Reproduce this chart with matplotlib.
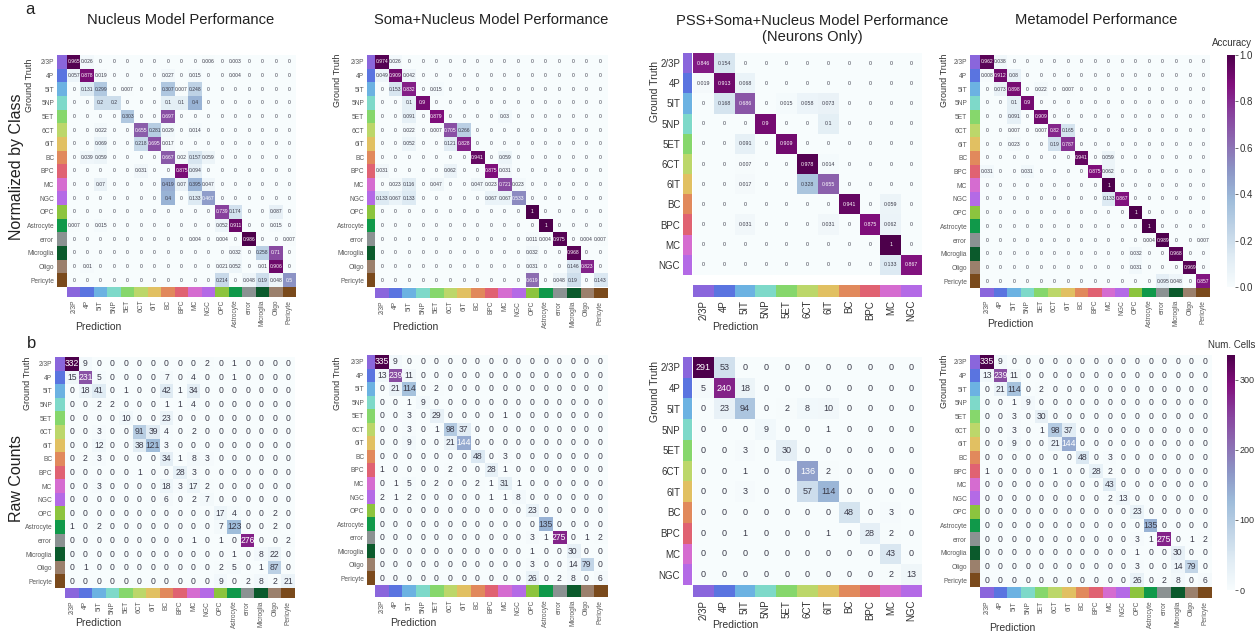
import numpy as np
import matplotlib
matplotlib.use('Agg')
import matplotlib.pyplot as plt
from matplotlib.colors import ListedColormap, Normalize
from matplotlib.cm import ScalarMappable

plt.rcParams['font.family'] = ['Liberation Sans', 'DejaVu Sans']

# ---------------- data ----------------
classes_all = ['2/3P', '4P', '5IT', '5NP', '5ET', '6CT', '6IT', 'BC', 'BPC', 'MC', 'NGC',
               'OPC', 'Astrocyte', 'error', 'Microglia', 'Oligo', 'Pericyte']
classes_neurons = classes_all[:11]
class_colors = ['#8a66dc', '#5a74e0', '#6cb2e2', '#7ed9c9', '#86d76c', '#bcd76a', '#e1c062',
                '#e1895c', '#e06272', '#d56cd0', '#b46ae6', '#8cc43e', '#10994a', '#8b9292',
                '#0b5a2c', '#9b806c', '#7a4a1c']

counts_nucleus = [
    [332, 9, 0, 0, 0, 0, 0, 0, 0, 0, 2, 0, 1, 0, 0, 0, 0],
    [15, 231, 5, 0, 0, 0, 0, 7, 0, 4, 0, 0, 1, 0, 0, 0, 0],
    [0, 18, 41, 0, 1, 0, 0, 42, 1, 34, 0, 0, 0, 0, 0, 0, 0],
    [0, 0, 2, 2, 0, 0, 0, 1, 1, 4, 0, 0, 0, 0, 0, 0, 0],
    [0, 0, 0, 0, 10, 0, 0, 23, 0, 0, 0, 0, 0, 0, 0, 0, 0],
    [0, 0, 3, 0, 0, 91, 39, 4, 0, 2, 0, 0, 0, 0, 0, 0, 0],
    [0, 0, 12, 0, 0, 38, 121, 3, 0, 0, 0, 0, 0, 0, 0, 0, 0],
    [0, 2, 3, 0, 0, 0, 0, 34, 1, 8, 3, 0, 0, 0, 0, 0, 0],
    [0, 0, 0, 0, 0, 1, 0, 0, 28, 3, 0, 0, 0, 0, 0, 0, 0],
    [0, 0, 3, 0, 0, 0, 0, 18, 3, 17, 2, 0, 0, 0, 0, 0, 0],
    [0, 0, 0, 0, 0, 0, 0, 6, 0, 2, 7, 0, 0, 0, 0, 0, 0],
    [0, 0, 0, 0, 0, 0, 0, 0, 0, 0, 0, 17, 4, 0, 0, 2, 0],
    [1, 0, 2, 0, 0, 0, 0, 0, 0, 0, 0, 7, 123, 0, 0, 2, 0],
    [0, 0, 0, 0, 0, 0, 0, 0, 0, 1, 0, 1, 0, 276, 0, 0, 2],
    [0, 0, 0, 0, 0, 0, 0, 0, 0, 0, 0, 0, 1, 0, 8, 22, 0],
    [0, 1, 0, 0, 0, 0, 0, 0, 0, 0, 0, 2, 5, 0, 1, 87, 0],
    [0, 0, 0, 0, 0, 0, 0, 0, 0, 0, 0, 9, 0, 2, 8, 2, 21],
]

counts_soma_nucleus = [
    [335, 9, 0, 0, 0, 0, 0, 0, 0, 0, 0, 0, 0, 0, 0, 0, 0],
    [13, 239, 11, 0, 0, 0, 0, 0, 0, 0, 0, 0, 0, 0, 0, 0, 0],
    [0, 21, 114, 0, 2, 0, 0, 0, 0, 0, 0, 0, 0, 0, 0, 0, 0],
    [0, 0, 1, 9, 0, 0, 0, 0, 0, 0, 0, 0, 0, 0, 0, 0, 0],
    [0, 0, 3, 0, 29, 0, 0, 0, 0, 1, 0, 0, 0, 0, 0, 0, 0],
    [0, 0, 3, 0, 1, 98, 37, 0, 0, 0, 0, 0, 0, 0, 0, 0, 0],
    [0, 0, 9, 0, 0, 21, 144, 0, 0, 0, 0, 0, 0, 0, 0, 0, 0],
    [0, 0, 0, 0, 0, 0, 0, 48, 0, 3, 0, 0, 0, 0, 0, 0, 0],
    [1, 0, 0, 0, 0, 2, 0, 0, 28, 1, 0, 0, 0, 0, 0, 0, 0],
    [0, 1, 5, 0, 2, 0, 0, 2, 1, 31, 1, 0, 0, 0, 0, 0, 0],
    [2, 1, 2, 0, 0, 0, 0, 0, 1, 1, 8, 0, 0, 0, 0, 0, 0],
    [0, 0, 0, 0, 0, 0, 0, 0, 0, 0, 0, 23, 0, 0, 0, 0, 0],
    [0, 0, 0, 0, 0, 0, 0, 0, 0, 0, 0, 0, 135, 0, 0, 0, 0],
    [0, 0, 0, 0, 0, 0, 0, 0, 0, 0, 0, 3, 1, 275, 0, 1, 2],
    [0, 0, 0, 0, 0, 0, 0, 0, 0, 0, 0, 1, 0, 0, 30, 0, 0],
    [0, 0, 0, 0, 0, 0, 0, 0, 0, 0, 0, 3, 0, 0, 14, 79, 0],
    [0, 0, 0, 0, 0, 0, 0, 0, 0, 0, 0, 26, 0, 2, 8, 0, 6],
]

counts_pss_neurons = [
    [291, 53, 0, 0, 0, 0, 0, 0, 0, 0, 0],
    [5, 240, 18, 0, 0, 0, 0, 0, 0, 0, 0],
    [0, 23, 94, 0, 2, 8, 10, 0, 0, 0, 0],
    [0, 0, 0, 9, 0, 0, 1, 0, 0, 0, 0],
    [0, 0, 3, 0, 30, 0, 0, 0, 0, 0, 0],
    [0, 0, 1, 0, 0, 136, 2, 0, 0, 0, 0],
    [0, 0, 3, 0, 0, 57, 114, 0, 0, 0, 0],
    [0, 0, 0, 0, 0, 0, 0, 48, 0, 3, 0],
    [0, 0, 1, 0, 0, 0, 1, 0, 28, 2, 0],
    [0, 0, 0, 0, 0, 0, 0, 0, 0, 43, 0],
    [0, 0, 0, 0, 0, 0, 0, 0, 0, 2, 13],
]

counts_meta = [
    [335, 9, 0, 0, 0, 0, 0, 0, 0, 0, 0, 0, 0, 0, 0, 0, 0],
    [13, 239, 11, 0, 0, 0, 0, 0, 0, 0, 0, 0, 0, 0, 0, 0, 0],
    [0, 21, 114, 0, 2, 0, 0, 0, 0, 0, 0, 0, 0, 0, 0, 0, 0],
    [0, 0, 1, 9, 0, 0, 0, 0, 0, 0, 0, 0, 0, 0, 0, 0, 0],
    [0, 0, 3, 0, 30, 0, 0, 0, 0, 0, 0, 0, 0, 0, 0, 0, 0],
    [0, 0, 3, 0, 1, 98, 37, 0, 0, 0, 0, 0, 0, 0, 0, 0, 0],
    [0, 0, 9, 0, 0, 21, 144, 0, 0, 0, 0, 0, 0, 0, 0, 0, 0],
    [0, 0, 0, 0, 0, 0, 0, 48, 0, 3, 0, 0, 0, 0, 0, 0, 0],
    [1, 0, 0, 0, 0, 1, 0, 0, 28, 2, 0, 0, 0, 0, 0, 0, 0],
    [0, 0, 0, 0, 0, 0, 0, 0, 0, 43, 0, 0, 0, 0, 0, 0, 0],
    [0, 0, 0, 0, 0, 0, 0, 0, 0, 2, 13, 0, 0, 0, 0, 0, 0],
    [0, 0, 0, 0, 0, 0, 0, 0, 0, 0, 0, 23, 0, 0, 0, 0, 0],
    [0, 0, 0, 0, 0, 0, 0, 0, 0, 0, 0, 0, 135, 0, 0, 0, 0],
    [0, 0, 0, 0, 0, 0, 0, 0, 0, 0, 0, 3, 1, 275, 0, 1, 2],
    [0, 0, 0, 0, 0, 0, 0, 0, 0, 0, 0, 1, 0, 0, 30, 0, 0],
    [0, 0, 0, 0, 0, 0, 0, 0, 0, 0, 0, 3, 0, 0, 14, 79, 0],
    [0, 0, 0, 0, 0, 0, 0, 0, 0, 0, 0, 26, 0, 2, 8, 0, 6],
]

accuracy_meta = [
    [0.962, 0.038, 0, 0, 0, 0, 0, 0, 0, 0, 0, 0, 0, 0, 0, 0, 0],
    [0.008, 0.912, 0.08, 0, 0, 0, 0, 0, 0, 0, 0, 0, 0, 0, 0, 0, 0],
    [0, 0.073, 0.898, 0, 0.022, 0, 0.007, 0, 0, 0, 0, 0, 0, 0, 0, 0, 0],
    [0, 0, 0.1, 0.9, 0, 0, 0, 0, 0, 0, 0, 0, 0, 0, 0, 0, 0],
    [0, 0, 0.091, 0, 0.909, 0, 0, 0, 0, 0, 0, 0, 0, 0, 0, 0, 0],
    [0, 0, 0.007, 0, 0.007, 0.82, 0.165, 0, 0, 0, 0, 0, 0, 0, 0, 0, 0],
    [0, 0, 0.023, 0, 0, 0.19, 0.787, 0, 0, 0, 0, 0, 0, 0, 0, 0, 0],
    [0, 0, 0, 0, 0, 0, 0, 0.941, 0, 0.059, 0, 0, 0, 0, 0, 0, 0],
    [0.031, 0, 0, 0.031, 0, 0, 0, 0, 0.875, 0.062, 0, 0, 0, 0, 0, 0, 0],
    [0, 0, 0, 0, 0, 0, 0, 0, 0, 1, 0, 0, 0, 0, 0, 0, 0],
    [0, 0, 0, 0, 0, 0, 0, 0, 0, 0.133, 0.867, 0, 0, 0, 0, 0, 0],
    [0, 0, 0, 0, 0, 0, 0, 0, 0, 0, 0, 1, 0, 0, 0, 0, 0],
    [0, 0, 0, 0, 0, 0, 0, 0, 0, 0, 0, 0, 1, 0, 0, 0, 0],
    [0, 0, 0, 0, 0, 0, 0, 0, 0, 0, 0, 0, 0.004, 0.989, 0, 0, 0.007],
    [0, 0, 0, 0, 0, 0, 0, 0, 0, 0, 0, 0.032, 0, 0, 0.968, 0, 0],
    [0, 0, 0, 0, 0, 0, 0, 0, 0, 0, 0, 0.031, 0, 0, 0, 0.969, 0],
    [0, 0, 0, 0, 0, 0, 0, 0, 0, 0, 0, 0, 0, 0.095, 0.048, 0, 0.857],
]

titles = ['Nucleus Model Performance', 'Soma+Nucleus Model Performance',
          'PSS+Soma+Nucleus Model Performance\n(Neurons Only)', 'Metamodel Performance']


def row_normalize(m):
    m = np.asarray(m, dtype=float)
    return m / m.sum(axis=1, keepdims=True)


# ---------------- figure ----------------
W, H = 1257, 636
fig = plt.figure(figsize=(W / 100, H / 100), dpi=100)
cmap = plt.get_cmap('BuPu')


def px_ax(x0, y0, x1, y1):
    return fig.add_axes([x0 / W, 1 - y1 / H, (x1 - x0) / W, (y1 - y0) / H])


def ftext(x, y, s, **kw):
    fig.text(x / W, 1 - y / H, s, **kw)


def rel_lum(c):
    rgb = np.array(c[:3])
    rgb = np.where(rgb <= .03928, rgb / 12.92, ((rgb + .055) / 1.055) ** 2.4)
    return rgb.dot([.2126, .7152, .0722])


def fmt_frac(v):
    return f"{round(float(v), 3):g}"


def fmt_int(v):
    return str(int(v))


def draw_panel(M, labels, box, left, bottom, fmt, ann_fs, tick_fs, tick_col):
    M = np.asarray(M, dtype=float)
    n = len(labels)
    vmax = M.max()
    hx0, hy0, hx1, hy1 = box
    ax = px_ax(hx0, hy0, hx1, hy1)
    ax.imshow(M, cmap=cmap, vmin=0, vmax=vmax, aspect='auto', interpolation='nearest')
    for i in range(n):
        for j in range(n):
            v = M[i, j]
            c = cmap(v / vmax)
            col = '#3c3c4a' if rel_lum(c) > .408 else 'white'
            ax.text(j, i, fmt(v), ha='center', va='center', fontsize=ann_fs, color=col)
    ax.set_xticks([])
    ax.set_yticks([])
    for s in ax.spines.values():
        s.set_visible(False)
    strip_cmap = ListedColormap(class_colors[:n])
    # left strip
    axl = px_ax(left[0], hy0, left[1], hy1)
    axl.imshow(np.arange(n)[:, None], cmap=strip_cmap, aspect='auto', interpolation='nearest')
    axl.set_xticks([])
    axl.set_yticks(range(n))
    axl.set_yticklabels(labels, fontsize=tick_fs, color=tick_col)
    axl.tick_params(length=0, pad=2)
    for s in axl.spines.values():
        s.set_visible(False)
    # bottom strip
    axb = px_ax(hx0, bottom[0], hx1, bottom[1])
    axb.imshow(np.arange(n)[None, :], cmap=strip_cmap, aspect='auto', interpolation='nearest')
    axb.set_yticks([])
    axb.set_xticks(range(n))
    axb.set_xticklabels(labels, fontsize=tick_fs, color=tick_col, rotation=90)
    axb.tick_params(length=0, pad=2)
    for s in axb.spines.values():
        s.set_visible(False)


acc_nucleus = row_normalize(counts_nucleus)
acc_soma_nucleus = row_normalize(counts_soma_nucleus)
acc_pss_neurons = row_normalize(counts_pss_neurons)

small_ann, small_tick, grey = 3.6, 4.8, '#5a5a5a'
# row a
draw_panel(acc_nucleus, classes_all, (67, 55, 296, 287), (57, 67), (287, 297),
           fmt_frac, small_ann, small_tick, grey)
draw_panel(acc_soma_nucleus, classes_all, (375, 55, 607, 287), (367, 375), (288, 298),
           fmt_frac, small_ann, small_tick, grey)
draw_panel(acc_pss_neurons, classes_neurons, (693, 53, 922, 275), (683, 692), (285, 297),
           fmt_frac, 3.8, 7, '#333333')
draw_panel(accuracy_meta, classes_all, (980, 55, 1210, 288), (970, 980), (288, 297),
           fmt_frac, small_ann, small_tick, grey)
# row b
draw_panel(counts_nucleus, classes_all, (65, 357, 295, 588), (55, 65), (588, 598),
           fmt_int, 6.2, small_tick, grey)
draw_panel(counts_soma_nucleus, classes_all, (375, 355, 607, 585), (367, 375), (585, 597),
           fmt_int, 6.2, small_tick, grey)
draw_panel(counts_pss_neurons, classes_neurons, (693, 357, 922, 585), (683, 692), (585, 597),
           fmt_int, 6.5, 7, '#333333')
draw_panel(counts_meta, classes_all, (980, 355, 1212, 587), (970, 980), (587, 598),
           fmt_int, 6.2, small_tick, grey)

# colorbars
cax1 = px_ax(1227, 55, 1235, 287)
cb1 = fig.colorbar(ScalarMappable(norm=Normalize(0, 1), cmap=cmap), cax=cax1)
cb1.set_ticks([0, 0.2, 0.4, 0.6, 0.8, 1.0])
cb1.set_ticklabels(['0.0', '0.2', '0.4', '0.6', '0.8', '1.0'])
cb1.ax.tick_params(labelsize=7, length=2, width=0.5, pad=1, colors='#333333')
cb1.outline.set_visible(False)

cax2 = px_ax(1227, 355, 1235, 590)
cb2 = fig.colorbar(ScalarMappable(norm=Normalize(0, np.max(counts_meta)), cmap=cmap), cax=cax2)
cb2.set_ticks([0, 100, 200, 300])
cb2.ax.tick_params(labelsize=6.5, length=2, width=0.5, pad=1, colors='#333333')
cb2.outline.set_visible(False)

ftext(1232, 43, 'Accuracy', fontsize=7, ha='center', va='center', color='#333333')
ftext(1232, 345, 'Num. Cells', fontsize=7, ha='center', va='center', color='#333333')

# titles
title_kw = dict(fontsize=10.6, ha='center', va='center', color='#222222')
ftext(181, 20, titles[0], **title_kw)
ftext(491, 20, titles[1], **title_kw)
ftext(812, 29, titles[2], linespacing=1.1, **title_kw)
ftext(1096, 20, titles[3], **title_kw)

# panel letters and row labels
ftext(30, 10, 'a', fontsize=12, ha='center', va='center', color='#222222')
ftext(32, 344, 'b', fontsize=12, ha='center', va='center', color='#222222')
ftext(17, 167, 'Normalized by Class', fontsize=11.5, rotation=90, ha='center', va='center',
      color='#222222')
ftext(17, 479, 'Raw Counts', fontsize=11.5, rotation=90, ha='center', va='center',
      color='#222222')

# axis labels
gt_kw = dict(rotation=90, ha='center', va='center', color='#333333')
for (x, y, fs) in [(29, 85, 6.5), (337, 80, 6.5), (655, 92, 7.5), (944, 80, 6.5),
                   (28, 383, 6.5), (337, 383, 6.5), (655, 391, 7.5), (944, 381, 6.5)]:
    ftext(x, y, 'Ground Truth', fontsize=fs, **gt_kw)

pr_kw = dict(fontsize=7.5, ha='center', va='center', color='#333333')
for (x, y) in [(98, 327), (415, 327), (735, 327), (1010, 324),
               (98, 623), (413, 623), (735, 625), (1012, 628)]:
    ftext(x, y, 'Prediction', **pr_kw)

fig.savefig('out.png', dpi=100)
